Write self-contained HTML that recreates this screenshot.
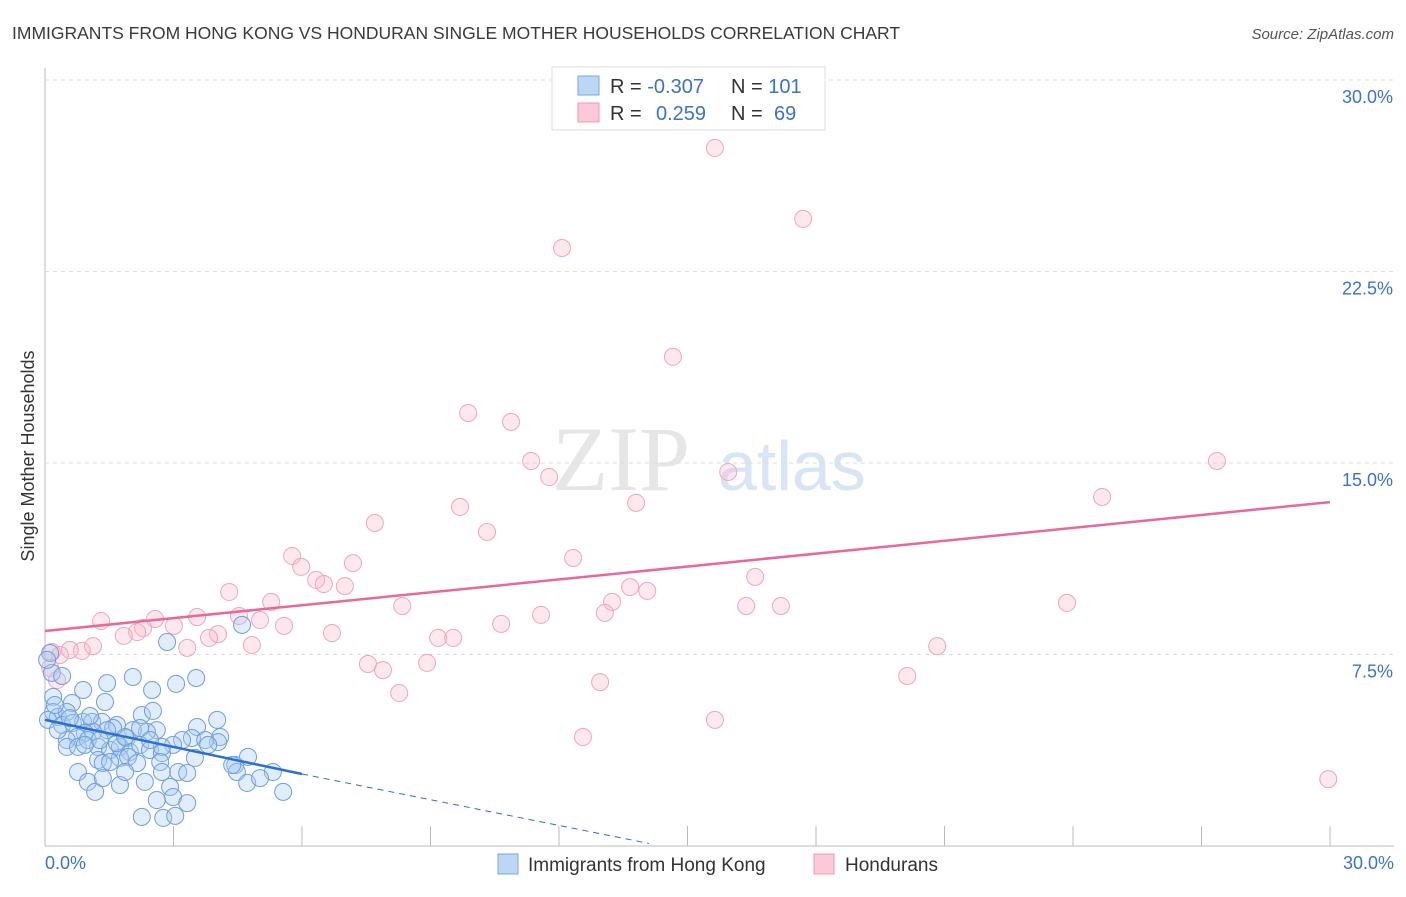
<!DOCTYPE html>
<html><head><meta charset="utf-8"><style>
body{margin:0;background:#fff;font-family:"Liberation Sans",sans-serif}
</style></head><body>
<svg id="c" width="1406" height="892" xmlns="http://www.w3.org/2000/svg" style="font-family:'Liberation Sans',sans-serif">
<text x="12" y="39" font-size="17.5" fill="#3a3a3a">IMMIGRANTS FROM HONG KONG VS HONDURAN SINGLE MOTHER HOUSEHOLDS CORRELATION CHART</text>
<text x="1394" y="39" font-size="15" fill="#555" text-anchor="end" font-style="italic">Source: ZipAtlas.com</text>
<text x="34" y="456" font-size="18" fill="#333" transform="rotate(-90 34 456)" text-anchor="middle">Single Mother Households</text>
<g><text x="552" y="490" font-size="92" fill="#e6e6e6" font-family="Liberation Serif">ZIP</text><text x="718" y="490" font-size="70" fill="#d7e5f5">atlas</text></g>
<g id="grid"></g><g id="pts"></g><g id="lines"></g>
<g>
<rect x="552" y="67" width="273" height="63" fill="#fff" stroke="#ddd"/>
<rect x="578" y="76" width="21" height="19" fill="#bcd6f5" stroke="#7aa7e0"/>
<rect x="578" y="103" width="21" height="19" fill="#fbc9d8" stroke="#ee9ab4"/>
<text x="610" y="93" font-size="20" fill="#333">R = <tspan fill="#3a72d0">-0.307</tspan></text>
<text x="731" y="93" font-size="20" fill="#333">N = <tspan fill="#3a72d0">101</tspan></text>
<text x="610" y="120" font-size="20" fill="#333">R = <tspan fill="#3a72d0" x="656">0.259</tspan></text>
<text x="731" y="120" font-size="20" fill="#333">N = <tspan fill="#3a72d0" x="774">69</tspan></text>
</g>
<g>
<rect x="498" y="854" width="20" height="20" fill="#bcd6f5" stroke="#7aa7e0"/>
<text x="528" y="871" font-size="19" fill="#333">Immigrants from Hong Kong</text>
<rect x="814" y="854" width="20" height="20" fill="#fbc9d8" stroke="#ee9ab4"/>
<text x="845" y="871" font-size="19" fill="#333">Hondurans</text>
</g>
</svg>
<script>
const yTicks=[7.5,15,22.5,30];
const yTickLabels=["7.5%","15.0%","22.5%","30.0%"];
const xTickLabels=["0.0%","30.0%"];
const blueX=[0.12,1.45,2.05,2.50,3.06,3.53,2.85,4.60,0.89,1.40,0.16,0.40,0.19,0.63,0.19,0.30,0.51,0.07,0.40,0.65,0.89,1.10,1.33,1.68,2.26,2.52,4.02,3.55,4.09,4.04,3.43,3.20,2.99,2.61,2.38,2.05,1.91,1.59,1.45,1.12,0.93,0.75,0.51,0.30,0.51,0.77,1.00,1.24,1.52,1.75,1.98,2.22,2.45,2.73,2.73,1.24,1.35,1.75,1.94,2.15,2.69,3.50,4.44,4.74,5.32,4.48,0.77,1.00,1.17,1.35,1.75,1.87,2.33,2.73,3.11,3.32,2.92,2.99,2.61,3.32,4.72,5.02,5.56,2.26,2.76,3.04,1.52,1.68,0.05,0.23,1.87,2.45,3.74,1.28,0.93,2.22,3.81,0.58,1.05,4.37];
const blueY=[7.56,6.38,6.62,6.11,6.35,6.58,7.99,8.66,6.11,5.64,6.78,6.66,5.84,5.60,5.25,5.05,5.25,4.94,4.74,4.82,4.86,4.86,4.86,4.74,5.13,5.29,4.94,4.66,4.27,4.07,4.23,4.15,3.96,4.54,4.47,4.54,4.23,4.62,4.54,4.47,4.43,4.27,4.15,4.54,3.88,3.88,4.15,3.88,3.76,3.88,3.68,3.96,3.76,3.64,3.88,3.37,3.25,3.45,3.49,3.25,3.29,3.45,3.17,3.49,2.90,2.90,2.90,2.51,2.12,2.66,2.39,2.90,2.51,2.90,2.90,2.86,2.31,1.92,1.80,1.68,2.47,2.66,2.12,1.14,1.10,1.18,3.29,4.03,7.29,5.52,4.27,4.15,4.15,4.15,3.96,4.62,3.96,5.01,5.09,3.17];
const pinkX=[15.64,17.70,12.07,14.66,9.88,10.88,11.35,11.77,15.95,27.36,24.68,9.69,13.80,7.70,10.32,5.77,12.33,7.19,5.98,6.33,6.51,7.00,16.58,13.66,14.06,4.30,13.24,5.28,8.34,16.37,17.18,23.86,11.58,13.07,1.31,3.55,4.53,2.57,5.02,3.01,5.58,10.65,2.29,2.15,6.70,4.04,1.84,9.18,9.53,1.12,0.86,3.32,4.83,0.58,0.35,0.16,3.83,20.83,7.54,7.89,8.92,20.13,0.28,12.96,8.27,15.64,12.56,29.96,0.12];
const pinkY=[27.34,24.56,23.42,19.16,16.96,16.61,15.08,14.45,14.65,15.08,13.67,13.28,13.44,12.65,12.30,11.36,11.28,11.08,10.93,10.42,10.26,10.18,10.54,10.14,9.99,9.95,9.56,9.56,9.40,9.40,9.40,9.52,9.05,9.13,8.81,8.97,9.01,8.89,8.85,8.62,8.62,8.70,8.54,8.38,8.34,8.30,8.23,8.15,8.15,7.83,7.64,7.76,7.87,7.68,7.48,7.60,8.15,7.83,7.13,6.89,7.17,6.66,6.50,6.42,5.99,4.94,4.27,2.62,6.97];
const blueLine=[[0,4.94],[6,2.82]];
const blueDash=[[6,2.82],[14.1,0.1]];
const pinkLine=[[0,8.42],[30,13.47]];
const X=v=>45+v*(1285/30), Y=v=>846-v*25.533;
const NS="http://www.w3.org/2000/svg";
function mk(t,a,p){const e=document.createElementNS(NS,t);for(const k in a)e.setAttribute(k,a[k]);p.appendChild(e);return e;}
const g=document.getElementById('grid');
let ax=mk('line',{x1:45,y1:68,x2:45,y2:846,stroke:'#bbb'},g);


let bx=mk('line',{x1:45,y1:846,x2:1394,y2:846,stroke:'#bbb'},g);


yTicks.forEach((t,i)=>{
 let l=mk('line',{x1:45,y1:Y(t),x2:1394,y2:Y(t),stroke:'#ddd','stroke-dasharray':'4,4'},g);
 
 
 let tx=mk('text',{x:1393,y:Y(t)+23,'font-size':18,fill:'#3a72d0','text-anchor':'end'},g);tx.textContent=yTickLabels[i];
 
 
});
for(let i=1;i<=10;i++){let l=mk('line',{x1:X(i*3),y1:826,x2:X(i*3),y2:846,stroke:'#bbb'},g);
 
 }
[[0,'start',45],[1,'end',1394]].forEach(([i,a,x])=>{let t=mk('text',{x:x,y:869,'font-size':18,fill:'#3a72d0','text-anchor':a},g);t.textContent=xTickLabels[i];
 
 });
const p=document.getElementById('pts');
pinkX.forEach((v,i)=>{let c=mk('circle',{cx:X(v),cy:Y(pinkY[i]),r:8.5,fill:'rgba(248,180,200,0.3)',stroke:'#efa5bd','stroke-width':1},p);
 
 });
blueX.forEach((v,i)=>{let c=mk('circle',{cx:X(v),cy:Y(blueY[i]),r:8.5,fill:'rgba(170,202,242,0.35)',stroke:'#6e9fe0','stroke-width':1},p);
 
 });
const L=document.getElementById('lines');
let a=mk('line',{x1:X(pinkLine[0][0]),y1:Y(pinkLine[0][1]),x2:X(pinkLine[1][0]),y2:Y(pinkLine[1][1]),stroke:'#e8689a','stroke-width':2.5},L);


let b=mk('line',{x1:X(blueLine[0][0]),y1:Y(blueLine[0][1]),x2:X(blueLine[1][0]),y2:Y(blueLine[1][1]),stroke:'#2a6fd6','stroke-width':2.5},L);


let d=mk('line',{x1:X(blueDash[0][0]),y1:Y(blueDash[0][1]),x2:X(blueDash[1][0]),y2:Y(blueDash[1][1]),stroke:'#2a6fd6','stroke-width':1,'stroke-dasharray':'6,5'},L);


</script>
</body></html>
